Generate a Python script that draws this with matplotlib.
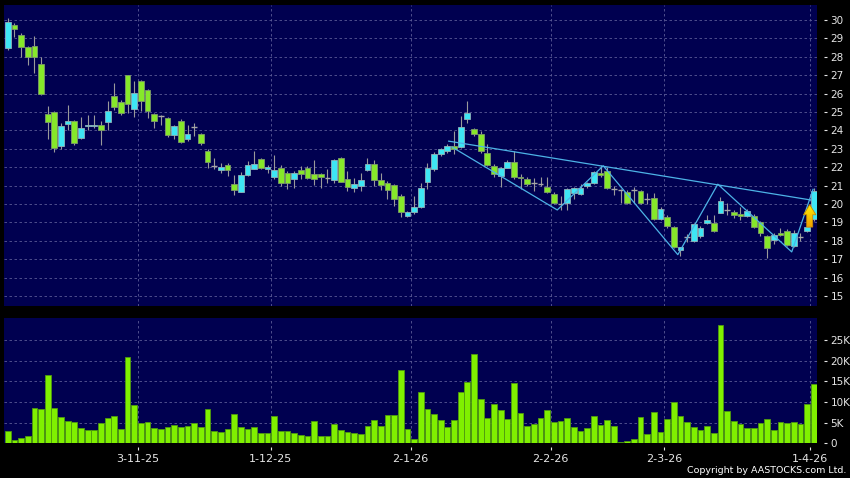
import datetime as dt
import numpy as np
import pandas as pd
import matplotlib
matplotlib.use("Agg")
import matplotlib.pyplot as plt
from matplotlib.patches import FancyArrow

# daily OHLC (HKD)
opens = [28.47, 29.73, 29.19, 28.52, 28.59, 27.60, 24.90, 25.01, 23.15, 24.36,
         24.54, 23.60, 24.22, 24.22, 24.32, 24.47, 25.87, 25.55, 26.99, 25.19,
         26.70, 26.22, 24.90, 24.77, 24.68, 23.78, 24.50, 23.51, 24.18, 23.82,
         22.91, 22.06, 21.83, 22.10, 21.08, 20.68, 21.56, 21.92, 22.46, 21.88,
         21.49, 21.97, 21.70, 21.38, 21.85, 21.97, 21.61, 21.65, 21.40, 21.31,
         22.51, 21.38, 20.90, 20.99, 21.85, 22.19, 21.31, 21.17, 21.02, 20.45,
         19.37, 19.59, 19.86, 21.22, 21.88, 22.70, 22.91, 23.15, 23.11, 24.63,
         24.09, 23.82, 22.79, 22.07, 21.52, 21.97, 22.30, 21.49, 21.38, 21.13,
         21.11, 20.95, 20.57, 20.03, 20.04, 20.62, 20.57, 20.98, 21.13, 21.70,
         21.79, 20.80, 20.77, 20.65, 20.79, 20.70, 20.29, 20.34, 19.21, 19.30,
         18.76, 17.53, 18.22, 18.00, 18.25, 18.97, 18.97, 19.54, 19.68, 19.59,
         19.45, 19.37, 19.36, 19.05, 18.27, 18.05, 18.45, 18.54, 17.74, 18.20,
         18.54, 19.20]
highs = [30.09, 29.85, 29.28, 28.60, 29.14, 27.98, 25.32, 25.08, 24.41, 25.41,
         24.59, 24.72, 24.83, 24.86, 24.50, 25.62, 26.58, 25.68, 27.03, 26.67,
         26.76, 26.25, 24.95, 24.86, 24.74, 24.32, 24.65, 24.32, 24.38, 23.87,
         23.00, 22.51, 22.21, 22.21, 21.56, 21.74, 22.33, 22.87, 22.51, 22.15,
         22.64, 22.15, 21.79, 21.79, 22.06, 22.06, 22.42, 21.70, 21.88, 22.46,
         22.55, 21.79, 21.43, 21.70, 22.51, 22.42, 21.67, 21.25, 21.08, 20.54,
         19.64, 20.45, 21.16, 22.25, 22.82, 23.06, 23.24, 23.96, 24.77, 25.58,
         24.14, 23.96, 23.24, 22.16, 22.03, 22.37, 22.88, 21.61, 21.49, 21.43,
         21.49, 21.49, 20.66, 20.44, 20.86, 20.93, 21.07, 21.20, 21.79, 22.10,
         22.03, 20.98, 20.83, 20.74, 20.92, 20.77, 20.59, 20.59, 19.84, 19.39,
         18.79, 17.68, 18.40, 18.97, 18.79, 19.39, 19.39, 20.41, 20.04, 19.68,
         19.86, 19.72, 19.46, 19.10, 18.32, 18.41, 18.68, 18.63, 18.59, 18.41,
         18.87, 20.86]
lows = [28.38, 29.10, 27.98, 27.57, 27.12, 25.91, 23.51, 22.85, 22.97, 24.05,
        23.21, 23.51, 24.05, 24.14, 23.21, 24.05, 25.14, 24.86, 24.95, 24.74,
        25.08, 24.68, 24.14, 24.32, 23.66, 23.51, 23.30, 23.42, 23.69, 23.21,
        21.97, 21.88, 21.70, 21.52, 20.48, 20.66, 21.52, 21.88, 21.88, 21.70,
        21.34, 20.99, 20.81, 20.90, 21.34, 21.38, 21.02, 20.90, 21.17, 21.17,
        21.20, 20.72, 20.63, 20.72, 21.79, 20.99, 20.77, 20.27, 19.91, 19.28,
        19.28, 19.46, 19.81, 20.84, 21.79, 22.61, 22.79, 22.70, 23.06, 24.41,
        23.69, 22.79, 22.07, 21.49, 20.95, 21.94, 21.38, 20.84, 20.98, 20.71,
        20.98, 20.62, 19.99, 19.68, 19.68, 20.26, 20.48, 20.89, 21.07, 21.49,
        20.80, 20.48, 20.05, 19.98, 20.05, 19.98, 20.02, 19.15, 19.15, 18.72,
        17.59, 17.17, 17.95, 17.95, 18.18, 18.94, 18.49, 19.50, 19.41, 19.23,
        19.14, 19.32, 18.68, 18.27, 17.05, 17.83, 18.27, 17.72, 17.69, 18.01,
        18.50, 19.10]
closes = [29.91, 29.50, 28.52, 28.02, 27.98, 26.00, 24.47, 23.03, 24.27, 24.52,
          23.33, 24.14, 24.31, 24.31, 24.00, 25.08, 25.28, 24.95, 25.46, 26.04,
          25.62, 25.05, 24.54, 24.77, 23.78, 24.27, 23.39, 23.82, 24.18, 23.33,
          22.30, 22.06, 22.01, 21.83, 20.75, 21.56, 22.13, 22.19, 21.97, 22.03,
          21.85, 21.13, 21.17, 21.70, 21.65, 21.43, 21.34, 21.47, 21.40, 22.42,
          21.22, 20.93, 21.11, 21.31, 22.19, 21.31, 21.02, 20.75, 20.30, 19.55,
          19.59, 19.86, 20.89, 21.94, 22.70, 22.97, 23.15, 23.02, 24.19, 24.95,
          23.82, 22.88, 22.10, 21.61, 21.94, 22.30, 21.49, 21.40, 21.11, 21.13,
          21.11, 20.68, 20.04, 20.03, 20.84, 20.89, 20.86, 21.16, 21.76, 21.56,
          20.89, 20.80, 20.77, 20.05, 20.79, 20.05, 20.29, 19.21, 19.75, 18.79,
          17.64, 17.64, 18.22, 18.94, 18.72, 19.12, 18.54, 20.17, 19.68, 19.41,
          19.37, 19.64, 18.78, 18.45, 17.60, 18.32, 18.32, 17.78, 18.45, 18.20,
          18.78, 20.71]
# volume in thousands of shares
volumes = [3.06, 0.80, 1.37, 1.85, 8.47, 8.23, 16.45, 8.47, 6.45, 5.40,
           5.08, 3.63, 3.23, 3.23, 5.00, 6.20, 6.53, 3.55, 20.90, 9.19,
           4.84, 5.24, 3.79, 3.55, 3.87, 4.44, 4.03, 4.19, 5.00, 4.03,
           8.39, 3.06, 2.82, 3.47, 7.10, 4.03, 3.47, 4.03, 2.42, 2.58,
           6.61, 3.06, 3.06, 2.42, 1.94, 1.77, 5.32, 1.85, 1.85, 4.76,
           3.15, 2.74, 2.50, 2.26, 4.19, 5.65, 4.11, 6.94, 6.94, 17.74,
           3.47, 1.13, 12.34, 8.39, 7.10, 5.65, 3.87, 5.56, 12.34, 14.84,
           21.69, 10.65, 6.21, 9.44, 7.98, 5.89, 14.52, 7.42, 4.19, 4.68,
           6.13, 8.15, 5.08, 5.48, 6.13, 4.03, 3.06, 3.71, 6.61, 4.52,
           5.56, 4.27, 0.24, 0.65, 1.13, 6.45, 2.26, 7.50, 2.66, 5.89,
           10.00, 6.53, 5.08, 3.95, 3.31, 4.27, 2.50, 28.55, 7.82, 5.48,
           4.76, 3.63, 3.63, 4.92, 5.81, 3.23, 5.16, 4.92, 5.08, 4.68,
           9.52, 14.35]

# HK market holidays inside the window
hk_holidays = ["2025-10-07", "2025-10-29", "2025-12-25", "2025-12-26",
               "2026-01-01", "2026-02-17", "2026-02-18", "2026-02-19"]
tick_labels = ["3-11-25", "1-12-25", "2-1-26", "2-2-26", "2-3-26", "1-4-26"]

# pattern lines drawn on the chart (bar position, price)
resist_x = [66.2, 120.6]
resist_y = [23.42, 20.22]
zigzag_x = [66.7, 82.5, 89.4, 100.6, 106.6, 117.7, 120.9]
zigzag_y = [23.10, 19.68, 22.08, 17.25, 21.08, 17.40, 20.80]

price_ticks = list(range(15, 31))
vol_ticks = [0, 5, 10, 15, 20, 25]

NAVY = "#000050"
GRID = "#5a5a96"
UP = "#3ee6f4"
DOWN = "#86e82a"
TXT = "#e6e6e6"

dates = pd.bdate_range("2025-10-02", "2026-04-01")
dates = dates[~dates.isin(pd.to_datetime(hk_holidays))]
x = np.arange(len(dates))
o, h, l, c = map(np.array, (opens, highs, lows, closes))

tick_dates = [pd.Timestamp(dt.datetime.strptime(t, "%d-%m-%y")) for t in tick_labels]
tick_pos = [dates.get_loc(d) - 0.5 for d in tick_dates]

fig = plt.figure(figsize=(8.5, 4.78), dpi=100, facecolor="black")
W, H = 850.0, 478.0
ax = fig.add_axes([4 / W, 1 - 306 / H, 812.7 / W, 301 / H], facecolor=NAVY)
axv = fig.add_axes([4 / W, 1 - 443.3 / H, 812.7 / W, 125 / H], facecolor=NAVY)

for a in (ax, axv):
    for s in a.spines.values():
        s.set_visible(False)
    a.set_xlim(-0.56, 121.45)
    a.yaxis.tick_right()
    a.spines["right"].set_position(("outward", 5))
    a.tick_params(axis="y", colors=TXT, labelsize=7.5, length=2, width=0.8, pad=3)
    a.set_xticks(tick_pos)
    a.grid(True, color=GRID, linestyle=(0, (3, 3)), linewidth=0.6)
    a.set_axisbelow(True)

# price panel
ax.set_ylim(14.46, 30.82)
ax.set_yticks(price_ticks)
ax.tick_params(axis="x", length=0, labelbottom=False)

ax.vlines(x, l, h, color="#9a9a9a", linewidth=0.8, zorder=2)
up = c > o
down = c < o
flat = c == o
ax.bar(x[up], (c - o)[up], bottom=o[up], width=0.86, color=UP,
       edgecolor="#8fb3b8", linewidth=0.6, zorder=3)
ax.bar(x[down], (o - c)[down], bottom=c[down], width=0.86, color=DOWN,
       edgecolor="#7d9a6a", linewidth=0.6, zorder=3)
ax.hlines(c[flat], x[flat] - 0.42, x[flat] + 0.42, color="#a8a8a8",
          linewidth=1.0, zorder=3)

ax.plot(resist_x, resist_y, color="#4db3e6", linewidth=0.9, zorder=4)
ax.plot(zigzag_x, zigzag_y, color="#4db3e6", linewidth=0.9, zorder=4)

# up arrow on the last bar, yellow-orange gradient
ax_x = x[-1] - 0.6
base = c[-1] - 1.96
arrow = FancyArrow(ax_x, base, 0, 1.22, width=0.9, head_width=1.85,
                   head_length=0.55, length_includes_head=True,
                   facecolor="none", edgecolor="#c88a00", linewidth=0.6, zorder=6)
ax.add_patch(arrow)
grad = np.linspace(1, 0, 64).reshape(-1, 1)
cmap = matplotlib.colors.LinearSegmentedColormap.from_list("ar", ["#f0a000", "#fff000"])
img = ax.imshow(grad, cmap=cmap, aspect="auto", zorder=5,
                extent=[ax_x - 1, ax_x + 1, base, base + 1.25], origin="upper")
img.set_clip_path(arrow)
ax.set_xlim(-0.56, 121.45)
ax.set_ylim(14.46, 30.82)

# volume panel
axv.bar(x, volumes, width=0.86, color="#80f000", edgecolor="#4f9a10",
        linewidth=0.6, zorder=3)
axv.set_ylim(0, 30.25)
axv.set_yticks(vol_ticks)
axv.set_yticklabels(["0"] + [f"{v}K" for v in vol_ticks[1:]])
axv.spines["bottom"].set_position(("outward", 3))
axv.set_xticklabels(tick_labels)
axv.tick_params(axis="x", colors=TXT, labelsize=8, length=2.5, width=0.8, pad=2)

fig.text(0.996, 0.006, "Copyright by AASTOCKS.com Ltd.", color="white",
         fontsize=6.8, ha="right", va="bottom")

fig.savefig("out.png", dpi=100, facecolor="black")
